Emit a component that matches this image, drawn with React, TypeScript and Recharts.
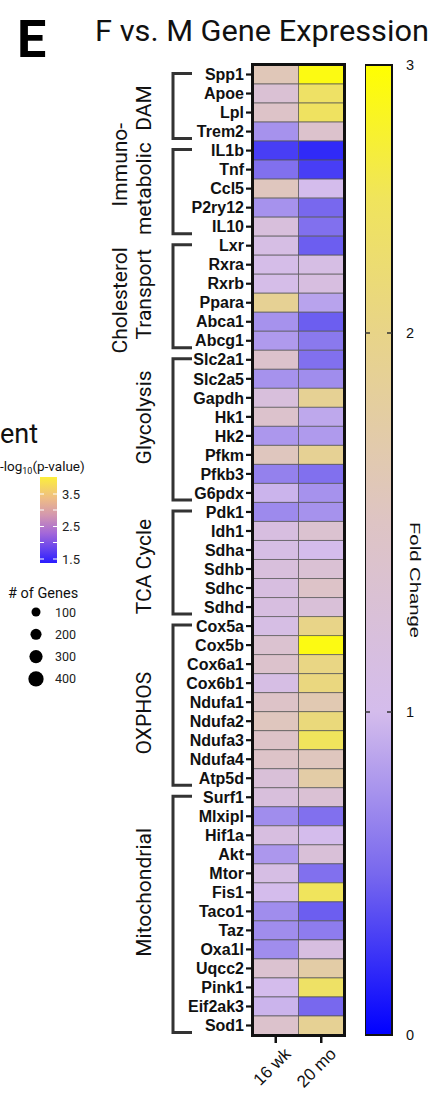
import React from "react";
import { BarChart, Bar, XAxis, YAxis, Cell, ReferenceLine } from "recharts";

// genes, top to bottom
const genes = [
  "Spp1", "Apoe", "Lpl", "Trem2",
  "IL1b", "Tnf", "Ccl5", "P2ry12", "IL10",
  "Lxr", "Rxra", "Rxrb", "Ppara", "Abca1", "Abcg1",
  "Slc2a1", "Slc2a5", "Gapdh", "Hk1", "Hk2", "Pfkm", "Pfkb3", "G6pdx",
  "Pdk1", "Idh1", "Sdha", "Sdhb", "Sdhc", "Sdhd",
  "Cox5a", "Cox5b", "Cox6a1", "Cox6b1", "Ndufa1", "Ndufa2", "Ndufa3", "Ndufa4", "Atp5d",
  "Surf1", "Mlxipl", "Hif1a", "Akt", "Mtor", "Fis1", "Taco1", "Taz", "Oxa1l", "Uqcc2", "Pink1", "Eif2ak3", "Sod1",
];

// fold change F vs M
const fc16wk = [
  1.6, 1.3, 1.45, 0.75,
  0.3, 0.55, 1.55, 0.75, 1.2,
  1.1, 1.05, 1.05, 1.9, 0.75, 0.8,
  1.4, 0.75, 1.2, 1.4, 0.78, 1.55, 0.65, 0.95,
  0.7, 1.15, 1.1, 1.2, 1.15, 1.15,
  1.1, 1.35, 1.4, 1.1, 1.45, 1.55, 1.45, 1.45, 1.25,
  1.2, 0.72, 1.15, 0.78, 1.1, 1.0, 0.72, 0.72, 0.72, 1.35, 1.0, 0.95, 1.4,
];
const fc20mo = [
  2.9, 2.4, 2.45, 1.4,
  0.2, 0.3, 1.0, 0.5, 0.55,
  0.45, 1.1, 1.15, 0.85, 0.45, 0.6,
  0.55, 0.72, 1.9, 0.88, 0.8, 1.9, 0.55, 0.75,
  0.75, 1.35, 1.0, 1.3, 1.45, 1.25,
  2.0, 2.9, 2.05, 2.1, 1.65, 2.15, 2.5, 1.55, 1.75,
  1.3, 0.55, 1.0, 1.25, 0.55, 2.5, 0.45, 0.62, 1.15, 1.75, 2.4, 0.5, 1.9,
];

const columns = ["16 wk", "20 mo"];
const groupNames = [["DAM"], ["Immuno-", "metabolic"], ["Cholesterol", "Transport"], ["Glycolysis"], ["TCA Cycle"], ["OXPHOS"], ["Mitochondrial"]];
const groupSizes = [4, 5, 6, 8, 6, 9, 13];
const fcTicks = [0, 1, 2, 3];

// enrichment legend (left, cut off)
const pTicks = ["3.5", "2.5", "1.5"];
const geneCountTicks = [100, 200, 300, 400];

const stops: [number, number[]][] = [
  [0, [0, 0, 255]],
  [0.5, [120, 104, 238]],
  [1, [212, 188, 236]],
  [1.5, [222, 196, 196]],
  [2, [232, 212, 136]],
  [2.5, [240, 228, 92]],
  [3, [255, 255, 0]],
];

function fcColor(v: number) {
  const x = Math.max(0, Math.min(3, v));
  for (let i = 1; i < stops.length; i++) {
    if (x <= stops[i][0]) {
      const [a, ca] = stops[i - 1];
      const [b, cb] = stops[i];
      const t = (x - a) / (b - a);
      const c = ca.map((q, k) => Math.round(q + (cb[k] - q) * t));
      return `rgb(${c[0]},${c[1]},${c[2]})`;
    }
  }
  return "rgb(255,255,0)";
}

// the colour bar spaces its labels unevenly: where each whole fold change sits along the bar
const barPos = (v: number) => {
  const knots = [0, 0.999, 2.171, 3];
  const i = Math.min(2, Math.floor(v));
  return knots[i] + (knots[i + 1] - knots[i]) * (v - i);
};

const rows = genes.map((g, i) => ({ gene: g, c16: 1, c20: 1, v16: fc16wk[i], v20: fc20mo[i] }));

const TOP = 65;
const BOTTOM = 1035;
const rowH = (BOTTOM - TOP) / genes.length;

const ColTick = (props: any) => {
  const { x, y, payload } = props;
  const ax = x + 16;
  const ay = y + 10;
  return (
    <text x={ax} y={ay} transform={`rotate(-45 ${ax} ${ay})`} textAnchor="end" fontSize={17} fill="#111" fontFamily="Liberation Sans, Arial">
      {columns[Math.floor(payload.value)]}
    </text>
  );
};

export default function App() {
  let start = 0;
  const brackets = groupSizes.map((n, gi) => {
    const first = start;
    const last = start + n - 1;
    start += n;
    const y1 = TOP + rowH * (first + 0.5) - 1;
    const y2 = TOP + rowH * (last + 0.5) + 7;
    return { gi, y1, y2, mid: (y1 + y2) / 2 };
  });
  const labelShift = [[2], [-27, -3], [4, -2], [-12], [4], [8], [-22]];
  const gradStops = [...stops].reverse();

  return (
    <div style={{ position: "absolute", left: 0, top: 0, width: 437, height: 1094, overflow: "hidden", background: "#fff", fontFamily: "Liberation Sans, Arial, sans-serif" }}>
      <div style={{ position: "absolute", left: 0, top: 0 }}>
        <BarChart
          width={437}
          height={1094}
          data={rows}
          layout="vertical"
          margin={{ top: TOP, right: 93, bottom: 0, left: 0 }}
          barCategoryGap={0}
          barGap={0}
        >
          <XAxis
            type="number"
            domain={[0, 2]}
            ticks={[0.5, 1.5]}
            height={59}
            axisLine={false}
            tickSize={8}
            tickMargin={2}
            tickLine={{ stroke: "#111", strokeWidth: 2.5 }}
            tick={<ColTick />}
            interval={0}
          />
          <YAxis
            type="category"
            dataKey="gene"
            width={253}
            axisLine={false}
            interval={0}
            tickSize={7}
            tickMargin={2}
            tickLine={{ stroke: "#111", strokeWidth: 2.2 }}
            tick={{ fontSize: 16, fontWeight: 700, fill: "#111", fontFamily: "Liberation Sans, Arial" }}
          />
          <Bar dataKey="c16" stackId="a" isAnimationActive={false} stroke="#555" strokeWidth={0.7}>
            {rows.map((r, i) => (
              <Cell key={`a${i}`} fill={fcColor(r.v16)} />
            ))}
          </Bar>
          <Bar dataKey="c20" stackId="a" isAnimationActive={false} stroke="#555" strokeWidth={0.7}>
            {rows.map((r, i) => (
              <Cell key={`b${i}`} fill={fcColor(r.v20)} />
            ))}
          </Bar>
        </BarChart>
      </div>

      <div style={{ position: "absolute", left: 251, top: TOP - 2, width: 95, height: BOTTOM - TOP + 4, border: "3px solid #111", boxSizing: "border-box" }} />

      <div style={{ position: "absolute", left: 365, top: 0 }}>
        <BarChart width={72} height={1094} data={[{ name: "fc", v: 3 }]} margin={{ top: TOP, right: 0, bottom: 1094 - BOTTOM, left: 0 }} barCategoryGap={0}>
          <defs>
            <linearGradient id="fcGrad" x1="0" y1="0" x2="0" y2="1">
              {gradStops.map(([v, c]) => (
                <stop key={v} offset={`${((3 - barPos(v)) / 3) * 100}%`} stopColor={`rgb(${c[0]},${c[1]},${c[2]})`} />
              ))}
            </linearGradient>
          </defs>
          <XAxis dataKey="name" hide />
          <YAxis
            orientation="right"
            domain={[0, 3]}
            ticks={fcTicks.map(barPos)}
            tickFormatter={(p: number) => String(fcTicks[fcTicks.map(barPos).indexOf(p)])}
            width={45}
            axisLine={false}
            tickLine={false}
            tickMargin={8}
            tick={{ fontSize: 14.5, fill: "#111", fontFamily: "Liberation Sans, Arial" }}
          />
          <Bar dataKey="v" fill="url(#fcGrad)" stroke="#111" strokeWidth={2} isAnimationActive={false} />
          {[1, 2].map((t) => (
            <ReferenceLine key={t} y={barPos(t)} stroke="#333" strokeWidth={1.5} strokeDasharray="5 17 5" />
          ))}
        </BarChart>
      </div>

      <svg width={437} height={1094} style={{ position: "absolute", left: 0, top: 0, pointerEvents: "none" }}>
        <defs>
          <linearGradient id="pGrad" x1="0" y1="0" x2="0" y2="1">
            <stop offset="0%" stopColor="#fcee3c" />
            <stop offset="25%" stopColor="#eebc86" />
            <stop offset="45%" stopColor="#d296b0" />
            <stop offset="65%" stopColor="#a468d8" />
            <stop offset="85%" stopColor="#6040f0" />
            <stop offset="100%" stopColor="#2a1cff" />
          </linearGradient>
        </defs>

        <text x={17} y={57} fontSize={52} fontWeight={700} fill="#000" fontFamily="Roboto">E</text>
        <text x={95} y={41} fontSize={29} textLength={334} lengthAdjust="spacingAndGlyphs" fill="#111" fontFamily="Roboto">F vs. M Gene Expression</text>

        {brackets.map((b) => (
          <g key={b.gi}>
            <path d={`M192 ${b.y1} H173 V${b.y2} H192`} fill="none" stroke="#333" strokeWidth={3} />
            {groupNames[b.gi].map((line, li) => {
              const n = groupNames[b.gi].length;
              const bx = n === 1 ? 151 : li === 0 ? 127 : 151;
              const cy = b.mid + labelShift[b.gi][li];
              return (
                <text key={li} x={bx} y={cy} transform={`rotate(-90 ${bx} ${cy})`} textAnchor="middle" fontSize={21} fill="#111" fontFamily="Roboto">
                  {line}
                </text>
              );
            })}
          </g>
        ))}

        <text x={410} y={580} transform="rotate(90 410 580)" textAnchor="middle" fontSize={14.5} textLength={116} lengthAdjust="spacingAndGlyphs" fill="#111" fontFamily="Liberation Sans, Arial">Fold Change</text>

        <text x={0} y={443} fontSize={27} fill="#111" fontFamily="Roboto">ent</text>
        <text x={0} y={471} fontSize={13.5} fill="#111" fontFamily="Roboto">
          -log<tspan fontSize={9} dy={3}>10</tspan><tspan dy={-3}>(p-value)</tspan>
        </text>
        <rect x={40} y={477} width={17} height={86} fill="url(#pGrad)" />
        {pTicks.map((t, i) => {
          const ty = 494 + i * 32.5;
          return (
            <g key={t}>
              <line x1={40} x2={44} y1={ty} y2={ty} stroke="#fff" strokeWidth={1} />
              <line x1={53} x2={57} y1={ty} y2={ty} stroke="#fff" strokeWidth={1} />
              <line x1={40} x2={44} y1={ty + 16} y2={ty + 16} stroke="#fff" strokeWidth={1} opacity={i < 2 ? 1 : 0} />
              <line x1={53} x2={57} y1={ty + 16} y2={ty + 16} stroke="#fff" strokeWidth={1} opacity={i < 2 ? 1 : 0} />
              <text x={62} y={ty + 4.5} fontSize={13} fill="#222" fontFamily="Roboto">{t}</text>
            </g>
          );
        })}
        <text x={8} y={598} fontSize={14.5} fill="#111" fontFamily="Roboto">
          # of Genes
        </text>
        {geneCountTicks.map((g, i) => {
          const cy = 612 + i * 22.3;
          return (
            <g key={g}>
              <circle cx={36} cy={cy} r={4.5 + i * 1.05} fill="#000" />
              <text x={55} y={cy + 4.5} fontSize={12.5} fill="#222" fontFamily="Roboto">{g}</text>
            </g>
          );
        })}
      </svg>
    </div>
  );
}
